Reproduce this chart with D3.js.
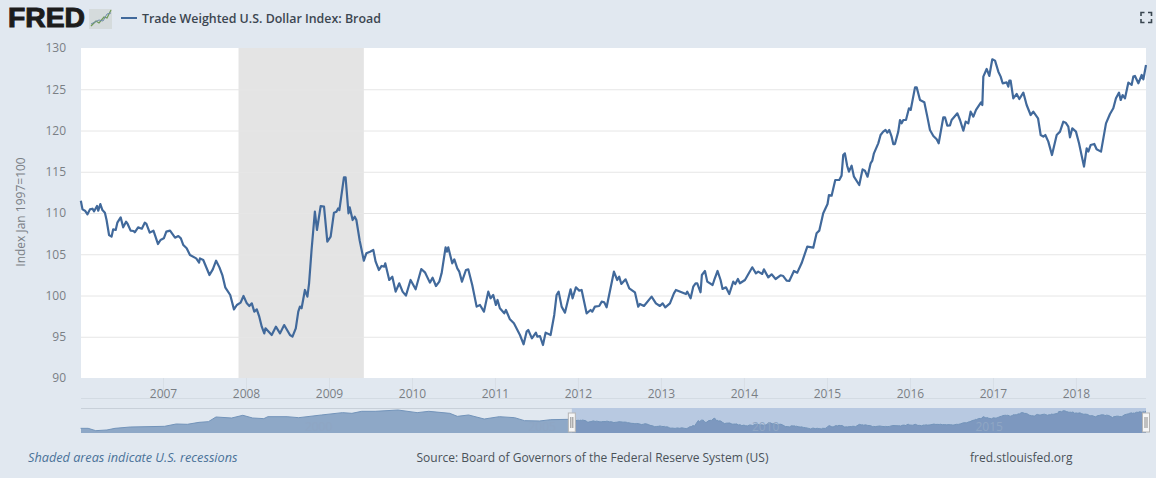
<!DOCTYPE html>
<html><head><meta charset="utf-8">
<script src="https://cdnjs.cloudflare.com/ajax/libs/d3/7.8.5/d3.min.js"></script>
<style>html,body{margin:0;padding:0;background:#e1e8f0}svg{display:block}text{font-family:"Open Sans",sans-serif}</style>
</head><body><svg id="c" width="1156" height="478"></svg>
<script>
const seriesName = "Trade Weighted U.S. Dollar Index: Broad";
const yAxisTitle = "Index Jan 1997=100";
const yTicks = [90,95,100,105,110,115,120,125,130];
const xTicks = [2007,2008,2009,2010,2011,2012,2013,2014,2015,2016,2017,2018];
const navTicks = [2000,2005,2010,2015];
const recession = [2007.91,2009.42];
const selection = [2006.012,2018.844];

const dates2006 = [2006.01,2006.03,2006.06,2006.09,2006.12,2006.15,2006.17,2006.205,2006.22,2006.245,2006.27,2006.30,2006.32,2006.35,2006.38,2006.40,2006.43,2006.45,2006.49,2006.52,2006.555,2006.57,2006.61,2006.645,2006.66,2006.70,2006.745,2006.78,2006.80,2006.84,2006.885,2006.94,2006.97];
const values2006 = [111.49,110.44,110.28,109.84,110.44,110.52,110.2,110.85,110.28,111.09,110.36,110.04,109.15,107.33,107.13,108.02,107.94,108.83,109.47,108.26,108.95,108.75,107.86,107.82,107.66,108.26,108.1,108.83,108.67,107.62,107.86,106.24,106.73];
const dates2007 = [2007.01,2007.04,2007.085,2007.145,2007.185,2007.215,2007.245,2007.285,2007.325,2007.40,2007.435,2007.445,2007.485,2007.56,2007.60,2007.64,2007.68,2007.715,2007.75,2007.81,2007.855,2007.89,2007.935,2007.97];
const values2007 = [106.93,107.74,107.86,107.01,107.21,106.93,106.12,105.72,104.91,104.5,103.98,104.5,104.3,102.48,103.17,104.22,103.41,102.48,100.99,100.06,98.32,98.85,99.13,99.94];
const dates2008 = [2008.01,2008.04,2008.07,2008.10,2008.13,2008.16,2008.19,2008.22,2008.235,2008.31,2008.36,2008.41,2008.46,2008.53,2008.56,2008.60,2008.63,2008.65,2008.67,2008.71,2008.74,2008.76,2008.79,2008.83,2008.855,2008.90,2008.94,2008.98];
const values2008 = [99.05,98.73,99.05,98.04,98.32,97.43,96.22,95.41,96.02,95.21,96.22,95.41,96.42,95.21,95.01,96.02,98.04,98.65,98.45,100.67,99.86,101.47,105.51,110.16,107.94,110.85,110.77,106.52];
const dates2009 = [2009.02,2009.06,2009.09,2009.11,2009.125,2009.18,2009.20,2009.235,2009.25,2009.285,2009.31,2009.33,2009.37,2009.42,2009.45,2009.495,2009.534,2009.562,2009.602,2009.634,2009.666,2009.678,2009.726,2009.763,2009.803,2009.847,2009.887,2009.927,2009.983];
const values2009 = [107.13,110.04,110.16,110.56,110.36,114.32,114.32,109.96,110.68,109.15,109.55,109.15,106.65,104.22,105.11,105.31,105.52,104.10,103.09,103.58,103.50,103.90,101.88,102.28,100.47,101.48,100.47,99.98,101.88];
const dates2010 = [2010.044,2010.112,2010.156,2010.216,2010.248,2010.289,2010.329,2010.357,2010.405,2010.421,2010.437,2010.485,2010.510,2010.546,2010.570,2010.602,2010.650,2010.678,2010.726,2010.779,2010.819,2010.867,2010.919,2010.947,2010.979];
const values2010 = [100.75,103.21,102.81,101.56,102.16,101.15,101.68,102.69,105.84,105.31,105.84,103.9,104.38,103.29,102.89,101.68,103.09,103.17,101.27,98.65,98.85,98.04,100.47,99.66,100.06];
const dates2011 = [2011.011,2011.031,2011.059,2011.112,2011.132,2011.180,2011.228,2011.301,2011.345,2011.381,2011.401,2011.445,2011.493,2011.510,2011.542,2011.578,2011.610,2011.670,2011.714,2011.742,2011.767,2011.803,2011.843,2011.911,2011.935,2011.975];
const values2011 = [98.85,99.46,98.45,97.84,98.24,97.11,96.63,95.21,94.08,95.62,95.82,94.81,95.50,95.01,95.09,94.0,95.5,95.21,97.64,100.06,100.47,98.65,97.92,100.75,99.66,100.99];
const dates2012 = [2012.015,2012.044,2012.104,2012.152,2012.172,2012.204,2012.256,2012.285,2012.317,2012.345,2012.433,2012.473,2012.497,2012.522,2012.574,2012.618,2012.686,2012.726,2012.746,2012.795,2012.887,2012.939,2012.987];
const values2012 = [100.59,100.67,97.84,98.24,98.04,98.65,98.73,99.25,99.17,98.57,102.89,101.88,102.28,101.4,101.96,100.87,100.39,98.65,98.97,98.73,99.86,99.05,98.73];
const dates2013 = [2013.020,2013.052,2013.108,2013.156,2013.180,2013.301,2013.317,2013.357,2013.389,2013.417,2013.437,2013.477,2013.493,2013.530,2013.558,2013.622,2013.642,2013.682,2013.718,2013.742,2013.783,2013.823,2013.871,2013.895,2013.927,2013.951];
const values2013 = [99.05,98.57,99.05,100.26,100.67,100.18,100.47,99.66,101.07,101.48,101.48,100.39,102.49,102.97,101.68,101.27,101.88,102.97,101.88,100.79,100.99,100.18,101.68,101.39,102.0,101.48];
const dates2014 = [2014.012,2014.100,2014.144,2014.172,2014.220,2014.240,2014.293,2014.333,2014.381,2014.441,2014.473,2014.514,2014.546,2014.602,2014.642,2014.694,2014.763,2014.835,2014.875,2014.907,2014.955];
const values2014 = [101.88,103.42,102.69,102.89,102.61,103.17,102.2,102.57,102.0,102.45,102.36,101.8,101.76,102.97,102.77,103.9,105.92,105.8,107.54,107.86,109.96];
const dates2015 = [2015.007,2015.024,2015.056,2015.100,2015.148,2015.176,2015.196,2015.216,2015.244,2015.265,2015.297,2015.325,2015.389,2015.429,2015.457,2015.489,2015.526,2015.546,2015.566,2015.618,2015.646,2015.678,2015.706,2015.727,2015.751,2015.779,2015.799,2015.819,2015.859,2015.880,2015.900,2015.920,2015.952,2015.988];
const values2015 = [111.09,112.18,112.1,114.0,114.0,114.53,117.03,117.23,115.7,115.01,115.74,114.4,113.39,115.29,115.13,114.4,116.02,116.34,117.23,118.44,119.45,119.86,120.06,119.74,120.06,119.25,118.36,118.36,119.86,121.27,120.87,121.27,121.27,122.69];
const dates2016 = [2016.009,2016.061,2016.081,2016.121,2016.173,2016.209,2016.241,2016.282,2016.322,2016.346,2016.402,2016.422,2016.450,2016.482,2016.502,2016.571,2016.603,2016.643,2016.671,2016.703,2016.731,2016.764,2016.796,2016.856,2016.872,2016.884,2016.924,2016.956,2016.992];
const values2016 = [122.49,125.23,125.23,123.70,123.42,121.68,120.06,119.34,118.93,118.45,121.6,121.6,120.59,120.63,121.27,122.08,121.27,119.98,121.07,120.87,122.28,121.68,122.49,123.42,123.09,126.53,127.46,126.61,128.63];
const dates2017 = [2017.025,2017.065,2017.093,2017.117,2017.165,2017.185,2017.197,2017.213,2017.245,2017.286,2017.318,2017.366,2017.406,2017.454,2017.486,2017.543,2017.575,2017.607,2017.631,2017.667,2017.711,2017.768,2017.808,2017.848,2017.876,2017.908,2017.928,2017.956];
const values2017 = [128.47,127.13,126.53,125.72,125.84,125.31,126.04,126.04,123.9,124.43,123.82,124.59,123.09,121.88,122.28,121.48,119.46,119.25,119.46,118.65,117.03,119.46,119.86,121.07,120.95,120.47,119.17,120.27];
const dates2018 = [2018.000,2018.037,2018.097,2018.129,2018.149,2018.177,2018.221,2018.249,2018.302,2018.362,2018.410,2018.450,2018.482,2018.519,2018.539,2018.563,2018.591,2018.631,2018.671,2018.691,2018.711,2018.752,2018.792,2018.812,2018.844];
const values2018 = [119.86,118.45,115.62,117.84,117.44,118.24,118.37,117.72,117.44,120.87,122.0,122.69,123.9,124.59,123.7,124.3,123.9,125.8,125.52,126.53,126.61,125.72,126.73,126.2,127.94];

const navDates = [1995.01,1995.18,1995.35,1995.60,1995.78,1996.12,1996.89,1997.15,1997.40,1997.66,1997.87,1998.04,1998.39,1998.64,1998.86,1999.11,1999.20,1999.63,1999.89,2000.40,2000.87,2001.08,2001.30,2001.60,2002.11,2002.54,2002.80,2003.27,2003.44,2003.69,2004.04,2004.38,2004.72,2004.94,2005.28,2005.53,2005.96];
const navValues = [95.4,95.4,91,92.3,95.4,97.9,99.2,103.6,103,106.7,108,116.8,114.9,120,114.9,113.7,117.4,117.4,115.5,120.6,125,123.7,127.5,127.5,130,125,127.5,123.7,118,120.6,113,117.4,115.5,109.9,109.3,111.8,112.4];

const dates = [].concat(dates2006,dates2007,dates2008,dates2009,dates2010,dates2011,dates2012,dates2013,dates2014,dates2015,dates2016,dates2017,dates2018);
const values = [].concat(values2006,values2007,values2008,values2009,values2010,values2011,values2012,values2013,values2014,values2015,values2016,values2017,values2018);
const allDates = navDates.concat(dates), allValues = navValues.concat(values);

const svg = d3.select("#c");
const L=81,R=1146,T=48,B=378;
const x = d3.scaleLinear().domain(selection).range([L,R]);
const y = d3.scaleLinear().domain([90,130]).range([B,T]);
const nx = d3.scaleLinear().domain([1995.02,2018.844]).range([L,R]);
const ny = d3.scaleLinear().domain([130,86.6]).range([410,433]);

svg.append("rect").attr("x",L).attr("y",T).attr("width",R-L).attr("height",B-T).attr("fill","#fff");
svg.append("rect").attr("x",x(recession[0])).attr("y",T).attr("width",x(recession[1])-x(recession[0])).attr("height",B-T).attr("fill","#e4e4e4");

// y grid + labels
const yAxis = d3.axisLeft(y).tickValues(yTicks).tickSize(L-R).tickPadding(15).tickFormat(d3.format("d"));
const gy = svg.append("g").attr("transform",`translate(${L},0)`).call(yAxis);
gy.select(".domain").remove();
gy.selectAll("line").attr("stroke","#e6e6e6").attr("stroke-width",1).filter(d=>d===130||d===90).remove();
gy.selectAll("text").attr("fill","#7a7f85").attr("font-size",12).style("font-family","'Open Sans',sans-serif");

// x axis
const xAxis = d3.axisBottom(x).tickValues(xTicks).tickSize(20).tickPadding(-9).tickFormat(d3.format("d"));
const gx = svg.append("g").attr("transform",`translate(0,${B})`).call(xAxis);
gx.select(".domain").remove();
gx.selectAll("line").attr("stroke","#d8dfe6");
gx.selectAll("text").attr("fill","#7a7f85").attr("font-size",12).style("font-family","'Open Sans',sans-serif");
svg.append("line").attr("x1",L).attr("x2",R).attr("y1",398.5).attr("y2",398.5).attr("stroke","#d3dbe3");

// main line
const line = d3.line().x((d,i)=>x(dates[i])).y((d,i)=>y(values[i]));
svg.append("path").datum(values).attr("d",line).attr("fill","none").attr("stroke","#41699b").attr("stroke-width",2.2).attr("stroke-linejoin","round");

// navigator
svg.append("line").attr("x1",L).attr("x2",R).attr("y1",408.5).attr("y2",408.5).attr("stroke","#c8d0d9");
const hL = nx(2006), hR = nx(selection[1]);
svg.append("rect").attr("x",hL).attr("y",408).attr("width",hR-hL).attr("height",25).attr("fill","#b8c9e1");
const defs = svg.append("defs");
defs.append("clipPath").attr("id","sel").append("rect").attr("x",hL).attr("y",400).attr("width",hR-hL).attr("height",40);
defs.append("clipPath").attr("id","uns").append("rect").attr("x",L).attr("y",400).attr("width",hL-L).attr("height",40);
const area = d3.area().x((d,i)=>nx(allDates[i])).y0(433).y1((d,i)=>ny(allValues[i]));
const navLine = d3.line().x((d,i)=>nx(allDates[i])).y((d,i)=>ny(allValues[i]));
svg.append("path").datum(allValues).attr("d",area).attr("fill","#8ea8c7").attr("clip-path","url(#uns)");
svg.append("path").datum(allValues).attr("d",area).attr("fill","#7d98bf").attr("clip-path","url(#sel)");
svg.append("path").datum(allValues).attr("d",navLine).attr("fill","none").attr("stroke","#7394ba").attr("stroke-width",1);
svg.append("g").selectAll("text").data(navTicks).join("text")
  .attr("x",d=>nx(d)+15).attr("y",431).attr("text-anchor","middle").attr("font-size",12).attr("fill","#8fa6c4").text(d=>d);
for (const hx of [hL,hR]) {
  svg.append("rect").attr("x",hx-3.5).attr("y",413).attr("width",7).attr("height",19).attr("fill","#f6f6f6").attr("stroke","#b5b5b5");
  for (const o of [-1,1]) svg.append("line").attr("x1",hx+o).attr("x2",hx+o).attr("y1",417).attr("y2",428).attr("stroke","#8a8a8a");
}

// y title
svg.append("text").attr("transform","translate(25,212) rotate(-90)").attr("text-anchor","middle").attr("font-size",12).attr("fill","#7a7f85").text(yAxisTitle);

// logo
svg.append("text").attr("x",8).attr("y",27).attr("font-size",27).attr("font-weight",900).attr("fill","#1c1c1c")
  .attr("textLength",77).attr("lengthAdjust","spacingAndGlyphs").style("font-family","'Liberation Sans',sans-serif").attr("stroke","#1c1c1c").attr("stroke-width",1).text("FRED");
svg.append("rect").attr("x",89).attr("y",9).attr("width",23).attr("height",20).attr("fill","#d5dbdc");
svg.append("path").attr("d","M91 26 L96 21 L99 23 L104 17 L107 18 L111 10").attr("fill","none").attr("stroke","#6f9a55").attr("stroke-width",1.2);
svg.append("path").attr("d","M91 24 L95 22 L99 20 L103 21 L107 14 L111 13").attr("fill","none").attr("stroke","#6f8ca8").attr("stroke-width",1);

// legend
svg.append("line").attr("x1",121).attr("x2",137).attr("y1",18).attr("y2",18).attr("stroke","#41699b").attr("stroke-width",2);
svg.append("text").attr("x",142).attr("y",22.5).attr("font-size",12.4).attr("font-weight",600).attr("fill","#3c4650").text(seriesName);

// fullscreen icon
svg.append("path").attr("d","M1141 16V12.5H1144.5M1148 12.5H1151.5V16M1151.5 19V22.5H1148M1144.5 22.5H1141V19").attr("fill","none").attr("stroke","#3a4650").attr("stroke-width",1.6);

// footer
svg.append("text").attr("x",28).attr("y",462).attr("font-size",12.7).attr("font-style","italic").attr("fill","#4a7299").text("Shaded areas indicate U.S. recessions");
svg.append("text").attr("x",592.5).attr("y",462).attr("text-anchor","middle").attr("font-size",12).attr("fill","#4a5259").text("Source: Board of Governors of the Federal Reserve System (US)");
svg.append("text").attr("x",970).attr("y",462).attr("font-size",12).attr("fill","#4a5259").text("fred.stlouisfed.org");
</script></body></html>
